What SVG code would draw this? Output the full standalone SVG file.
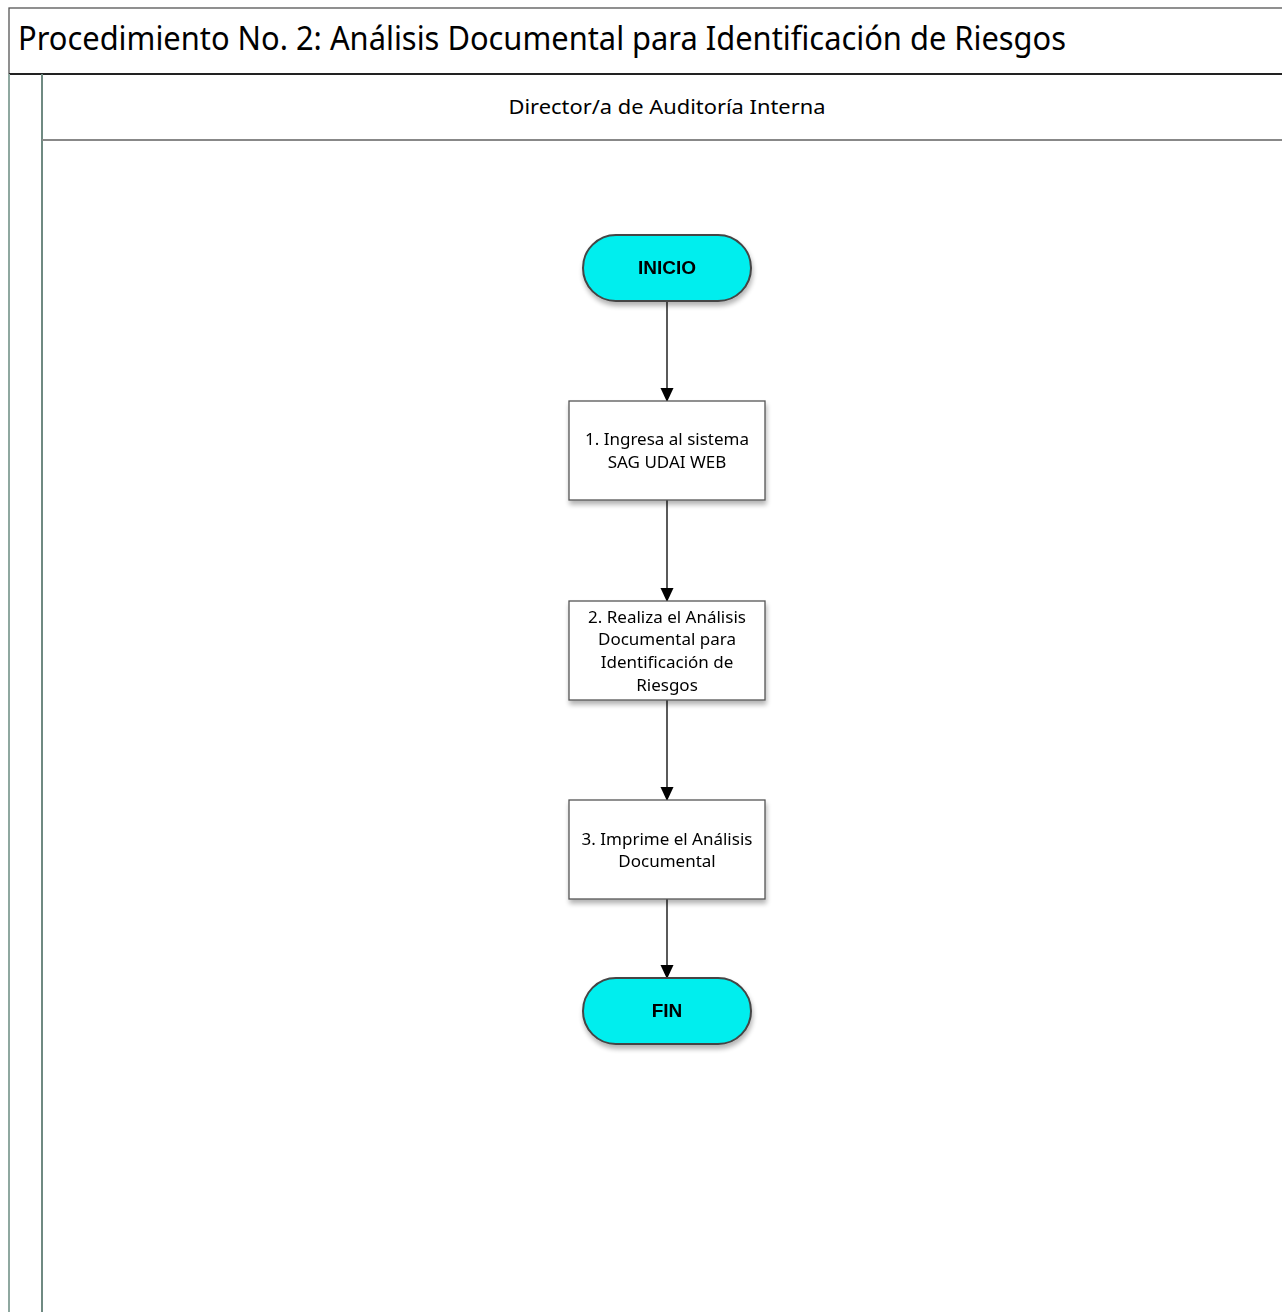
<svg xmlns="http://www.w3.org/2000/svg" width="1282" height="1312" viewBox="0 0 1282 1312">
<style>
.title{font-family:"Segoe UI","Noto Sans","Open Sans",sans-serif;font-size:32px;fill:#000}
.lane{font-family:"Segoe UI","Noto Sans","Open Sans",sans-serif;font-size:20px;fill:#000}
.txt{font-family:"Segoe UI","Noto Sans","Open Sans",sans-serif;font-size:17px;fill:#000}
.term{font-family:"Liberation Sans",Arial,sans-serif;font-size:19px;font-weight:bold;fill:#000}
.box{fill:#fff;stroke:#555;stroke-width:1.3}
.stad{fill:#00eeee;stroke:#444;stroke-width:2}
.conn{stroke:#000;stroke-width:1.3;fill:none}
</style>
<defs>
<filter id="sh" x="-20%" y="-20%" width="140%" height="150%">
<feGaussianBlur in="SourceAlpha" stdDeviation="2.5"/>
<feOffset dx="1" dy="4" result="b"/>
<feComponentTransfer><feFuncA type="linear" slope="0.3"/></feComponentTransfer>
<feMerge><feMergeNode/><feMergeNode in="SourceGraphic"/></feMerge>
</filter>
<pattern id="hatch" width="10" height="10" patternUnits="userSpaceOnUse" patternTransform="rotate(45)">
<rect width="10" height="10" fill="#00eeee"/>
<line x1="0" y1="0" x2="0" y2="10" stroke="#40f6f6" stroke-width="2"/>
</pattern>
<marker id="arr" markerWidth="14" markerHeight="14" refX="13" refY="7" orient="auto" markerUnits="userSpaceOnUse">
<path d="M0,0.5 L14,7 L0,13.5 Z" fill="#000"/>
</marker>
</defs>
<rect width="1282" height="1312" fill="#fff"/>
<g id="pool">
<rect x="9" y="8" width="1290" height="66" fill="#fff" stroke="#555" stroke-width="1.3"/>
<text class="title" x="18" y="50" textLength="1048" lengthAdjust="spacingAndGlyphs">Procedimiento No. 2: Análisis Documental para Identificación de Riesgos</text>
<line x1="9" y1="74" x2="1282" y2="74" stroke="#222" stroke-width="2"/>
<line x1="9" y1="74" x2="9" y2="1312" stroke="#8fa8a0" stroke-width="2"/>
<line x1="42" y1="74" x2="42" y2="1312" stroke="#6f8a82" stroke-width="2"/>
<line x1="42" y1="140" x2="1282" y2="140" stroke="#888" stroke-width="2"/>
<text class="lane" x="667" y="114" text-anchor="middle" textLength="317" lengthAdjust="spacingAndGlyphs">Director/a de Auditoría Interna</text>
</g>
<g id="connectors">
<line class="conn" x1="667" y1="301" x2="667" y2="401" marker-end="url(#arr)"/>
<line class="conn" x1="667" y1="500" x2="667" y2="601" marker-end="url(#arr)"/>
<line class="conn" x1="667" y1="700" x2="667" y2="800" marker-end="url(#arr)"/>
<line class="conn" x1="667" y1="899" x2="667" y2="978" marker-end="url(#arr)"/>
</g>
<g id="inicio" filter="url(#sh)">
<rect class="stad" x="583" y="235" width="168" height="66" rx="33" fill="url(#hatch)"/>
<text class="term" x="667" y="274" text-anchor="middle">INICIO</text>
</g>
<g id="n1" filter="url(#sh)">
<rect class="box" x="569" y="401" width="196" height="99"/>
<text class="txt" x="667" y="445" text-anchor="middle">1. Ingresa al sistema</text>
<text class="txt" x="667" y="468" text-anchor="middle">SAG UDAI WEB</text>
</g>
<g id="n2" filter="url(#sh)">
<rect class="box" x="569" y="601" width="196" height="99"/>
<text class="txt" x="667" y="623" text-anchor="middle">2. Realiza el Análisis</text>
<text class="txt" x="667" y="645" text-anchor="middle">Documental para</text>
<text class="txt" x="667" y="668" text-anchor="middle">Identificación de</text>
<text class="txt" x="667" y="691" text-anchor="middle">Riesgos</text>
</g>
<g id="n3" filter="url(#sh)">
<rect class="box" x="569" y="800" width="196" height="99"/>
<text class="txt" x="667" y="845" text-anchor="middle">3. Imprime el Análisis</text>
<text class="txt" x="667" y="867" text-anchor="middle">Documental</text>
</g>
<g id="fin" filter="url(#sh)">
<rect class="stad" x="583" y="978" width="168" height="66" rx="33" fill="url(#hatch)"/>
<text class="term" x="667" y="1017" text-anchor="middle">FIN</text>
</g>
</svg>
